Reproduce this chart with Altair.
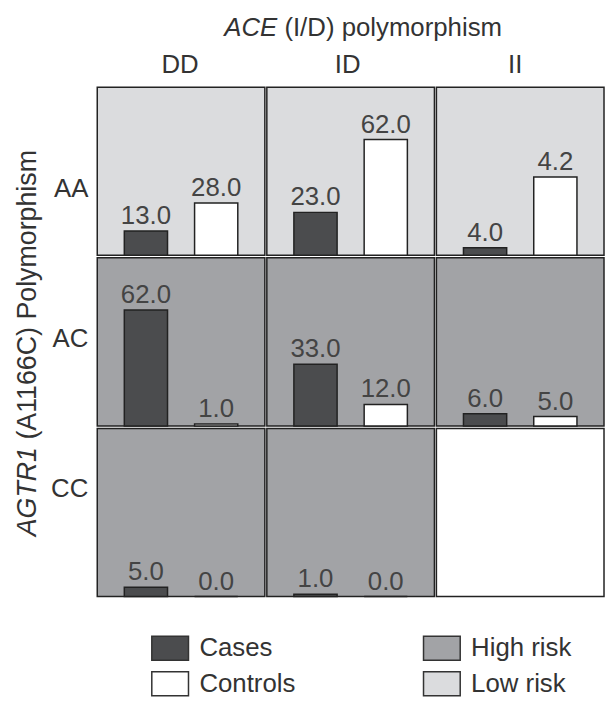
import itertools
import altair as alt
import pandas as pd

# ---- data -------------------------------------------------------------
AGTR1_ROWS = ["AA", "AC", "CC"]
ACE_COLS = ["DD", "ID", "II"]
GROUPS = ["Cases", "Controls"]

# one entry per cell, row-major: AA-DD, AA-ID, AA-II, AC-DD, ...
cell_risk = ["Low risk", "Low risk", "Low risk",
             "High risk", "High risk", "High risk",
             "High risk", "High risk", "None"]
cases_labels = ["13.0", "23.0", "4.0", "62.0", "33.0", "6.0", "5.0", "1.0", ""]
controls_labels = ["28.0", "62.0", "4.2", "1.0", "12.0", "5.0", "0.0", "0.0", ""]
cases_bar = [13.0, 23.0, 4.0, 62.0, 33.0, 6.5, 5.0, 1.2, None]
controls_bar = [28.0, 62.0, 42.0, 1.0, 11.5, 5.0, 0.0, 0.0, None]

FILL_DOMAIN = ["Cases", "Controls", "High risk", "Low risk", "None"]
FILL_RANGE = ["#4b4c4e", "#ffffff", "#a2a3a6", "#dbdcde", "#ffffff"]
LEGEND_VALUES = ["Cases", "Controls", "High risk", "Low risk"]

ACE_TITLE = ["ACE", "(I/D) polymorphism"]
AGTR1_TITLE = ["AGTR1", "(A1166C) Polymorphism"]

records = []
for i, (r, c) in enumerate(itertools.product(AGTR1_ROWS, ACE_COLS)):
    records.append(dict(agtr=r, ace=c, group="Cases", value=cases_bar[i],
                        label=cases_labels[i], risk=cell_risk[i]))
    records.append(dict(agtr=r, ace=c, group="Controls", value=controls_bar[i],
                        label=controls_labels[i], risk=cell_risk[i]))
df = pd.DataFrame(records)

# ---- layout constants --------------------------------------------------
CELL_W, CELL_H = 169, 169.5
LEFT_W, TOP_H = 89, 76
FS = 26
DARK = "#333333"
VAL = "#444444"

fill_scale = alt.Scale(domain=FILL_DOMAIN, range=FILL_RANGE)
legend = alt.Legend(
    title=None, orient="none", legendX=144, legendY=623,
    values=LEGEND_VALUES, columns=2, columnPadding=126, rowPadding=1,
    symbolType="M-1,-0.65L1,-0.65L1,0.65L-1,0.65Z", symbolSize=1369,
    symbolStrokeColor=DARK, symbolStrokeWidth=1.5,
    labelFontSize=FS, labelColor=DARK, labelOffset=10, padding=0,
)

base = alt.Chart()

bg = base.transform_filter("datum.group == 'Cases'").mark_rect(
    stroke="#222222", strokeWidth=1.5
).encode(
    x=alt.value(0), x2=alt.value(CELL_W),
    y=alt.value(0), y2=alt.value(CELL_H),
    fill=alt.Fill("risk:N", scale=fill_scale, legend=legend),
)

bars = base.mark_bar(stroke="#222222", strokeWidth=1.5).encode(
    x=alt.X("group:N", sort=GROUPS,
            scale=alt.Scale(domain=GROUPS, paddingInner=0.385, paddingOuter=0.385),
            axis=None),
    y=alt.Y("value:Q", scale=alt.Scale(domain=[0, 81]), axis=None),
    fill=alt.Fill("group:N", scale=fill_scale, legend=legend),
)

labels = base.mark_text(baseline="alphabetic", dy=-7, fontSize=FS, color=VAL).encode(
    x=alt.X("group:N", sort=GROUPS),
    y=alt.Y("value:Q"),
    text="label:N",
)

grid = alt.layer(bg, bars, labels, data=df).properties(
    width=CELL_W, height=CELL_H
).facet(
    row=alt.Row("agtr:N", sort=AGTR1_ROWS, title=None, header=alt.Header(labels=False)),
    column=alt.Column("ace:N", sort=ACE_COLS, title=None, header=alt.Header(labels=False)),
    spacing=0,
)

# ---- top: column title and column labels -------------------------------
col_labels = alt.Chart(pd.DataFrame({"ace": ACE_COLS})).mark_text(
    fontSize=FS, baseline="alphabetic", color=DARK
).encode(
    x=alt.X("ace:N", sort=ACE_COLS,
            scale=alt.Scale(paddingInner=0, paddingOuter=0), axis=None),
    y=alt.value(63),
    text="ace:N",
)
top_t1 = alt.Chart(pd.DataFrame({"t": [ACE_TITLE[0]]})).mark_text(
    fontSize=FS, fontStyle="italic", align="right", baseline="alphabetic", color=DARK
).encode(x=alt.value(182.5), y=alt.value(25.5), text="t:N")
top_t2 = alt.Chart(pd.DataFrame({"t": [ACE_TITLE[1]]})).mark_text(
    fontSize=FS, align="left", baseline="alphabetic", color=DARK
).encode(x=alt.value(189.7), y=alt.value(25.5), text="t:N")
top = alt.layer(col_labels, top_t1, top_t2).properties(width=3 * CELL_W, height=TOP_H)

corner = alt.Chart(pd.DataFrame({"t": [""]})).mark_text().encode(
    text="t:N"
).properties(width=LEFT_W, height=TOP_H)

# ---- left: row title and row labels ------------------------------------
row_labels = alt.Chart(pd.DataFrame({"agtr": AGTR1_ROWS})).mark_text(
    fontSize=FS, align="right", baseline="middle", color=DARK
).encode(
    y=alt.Y("agtr:N", sort=AGTR1_ROWS,
            scale=alt.Scale(type="point", padding=0.68), axis=None),
    x=alt.value(LEFT_W - 8),
    text="agtr:N",
)
left_t1 = alt.Chart(pd.DataFrame({"t": [AGTR1_TITLE[0]]})).mark_text(
    fontSize=27, fontStyle="italic", angle=270, align="right",
    baseline="alphabetic", color=DARK
).encode(x=alt.value(28), y=alt.value(362.8), text="t:N")
left_t2 = alt.Chart(pd.DataFrame({"t": [AGTR1_TITLE[1]]})).mark_text(
    fontSize=27, angle=270, align="left", baseline="alphabetic", color=DARK
).encode(x=alt.value(28), y=alt.value(355.3), text="t:N")
left = alt.layer(row_labels, left_t1, left_t2).properties(width=LEFT_W, height=3 * CELL_H)

chart = alt.vconcat(
    alt.hconcat(corner, top, spacing=0),
    alt.hconcat(left, grid, spacing=0),
    spacing=0,
).properties(padding=0).configure(
    font="Liberation Sans"
).configure_view(stroke=None)

chart.save("out.html", embed_options={"renderer": "svg", "actions": False})
